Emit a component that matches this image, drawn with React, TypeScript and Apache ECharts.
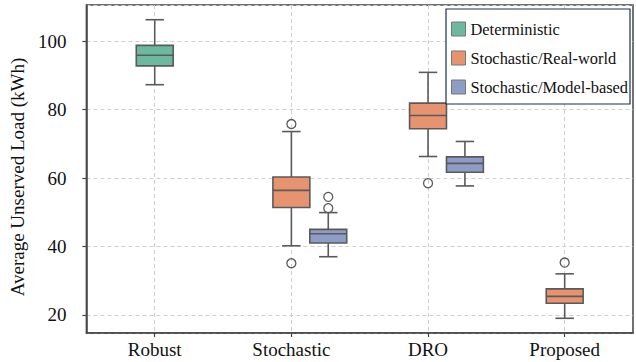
import React, { useEffect, useRef } from "react";
import * as echarts from "echarts";

const categories = ["Robust", "Stochastic", "DRO", "Proposed"];
const seriesNames = ["Deterministic", "Stochastic/Real-world", "Stochastic/Model-based"];
// [categoryIndex, lowerWhisker, q1, median, q3, upperWhisker]
const deterministicStats = [[0, 87.3, 92.8, 95.9, 98.8, 106.3]];
const realWorldStats = [
  [1, 40.2, 51.4, 56.4, 60.3, 73.6],
  [2, 66.3, 74.4, 78.3, 81.9, 90.9],
  [3, 19.0, 23.4, 25.4, 27.6, 32.0],
];
const modelBasedStats = [
  [1, 37.0, 41.0, 43.7, 45.0, 49.9],
  [2, 57.7, 61.7, 64.3, 66.2, 70.7],
];
// [categoryIndex, value]
const deterministicOutliers: number[][] = [];
const realWorldOutliers = [
  [1, 75.8],
  [1, 35.1],
  [2, 58.5],
  [3, 35.3],
];
const modelBasedOutliers = [
  [1, 54.5],
  [1, 51.2],
];
const yTicks = [20, 40, 60, 80, 100];

const FONT = "'Liberation Serif', 'Times New Roman', serif";
const LINE = "#5a5a5a";
const colors = ["#6cb9a0", "#e8936f", "#8e9dc6"];
const BOX_FRAC = 0.27;

function makeRender(offsetFrac: number, color: string, outliers: number[][]) {
  return (params: any, api: any) => {
    const cat = api.value(0);
    const low = api.value(1);
    const q1 = api.value(2);
    const med = api.value(3);
    const q3 = api.value(4);
    const high = api.value(5);
    const band = api.size([1, 0])[0];
    const bw = band * BOX_FRAC;
    const cx = api.coord([cat, 0])[0] + offsetFrac * band;
    const y = (v: number) => api.coord([cat, v])[1];
    const ls = { stroke: LINE, lineWidth: 1.6 };
    const children: any[] = [
      { type: "line", shape: { x1: cx, y1: y(low), x2: cx, y2: y(q1) }, style: ls },
      { type: "line", shape: { x1: cx, y1: y(q3), x2: cx, y2: y(high) }, style: ls },
      { type: "line", shape: { x1: cx - bw / 4, y1: y(low), x2: cx + bw / 4, y2: y(low) }, style: ls },
      { type: "line", shape: { x1: cx - bw / 4, y1: y(high), x2: cx + bw / 4, y2: y(high) }, style: ls },
      {
        type: "rect",
        shape: { x: cx - bw / 2, y: y(q3), width: bw, height: y(q1) - y(q3) },
        style: { fill: color, stroke: LINE, lineWidth: 1.6 },
      },
      { type: "line", shape: { x1: cx - bw / 2, y1: y(med), x2: cx + bw / 2, y2: y(med) }, style: ls },
    ];
    outliers
      .filter((o) => o[0] === cat)
      .forEach((o) => {
        children.push({
          type: "circle",
          shape: { cx, cy: y(o[1]), r: 4.5 },
          style: { fill: "none", stroke: LINE, lineWidth: 1.3 },
        });
      });
    return { type: "group", children };
  };
}

export default function App() {
  const ref = useRef<HTMLDivElement>(null);
  useEffect(() => {
    if (!ref.current) return;
    const chart = echarts.init(ref.current, null, { renderer: "svg" });
    const gridLine = { show: true, lineStyle: { color: "#cfcfcf", type: [4, 3] as any, width: 1 } };
    chart.setOption({
      animation: false,
      backgroundColor: "#ffffff",
      grid: {
        left: 85,
        right: 3,
        top: 5,
        bottom: 29,
        show: true,
        borderColor: "#444",
        borderWidth: 1.5,
        backgroundColor: "transparent",
      },
      legend: {
        data: seriesNames,
        orient: "vertical",
        right: 6,
        top: 9,
        icon: "rect",
        itemWidth: 14,
        itemHeight: 14,
        itemGap: 13,
        itemStyle: { borderColor: "#777", borderWidth: 1 },
        textStyle: { fontFamily: FONT, fontSize: 16.4, color: "#111" },
        backgroundColor: "#ffffff",
        borderColor: "#1f2d55",
        borderWidth: 1.2,
        borderRadius: 0,
        padding: [12, 2, 9, 5],
        selectedMode: false,
      },
      xAxis: {
        type: "category",
        data: categories,
        boundaryGap: true,
        axisLine: { show: true, lineStyle: { color: "#444", width: 1.5 } },
        axisTick: { show: true, alignWithLabel: true, length: 4, lineStyle: { color: "#444", width: 1.2 } },
        axisLabel: { fontFamily: FONT, fontSize: 19, color: "#111", margin: 7 },
        splitLine: { ...gridLine, alignWithLabel: true } as any,
      },
      yAxis: {
        type: "value",
        min: 14.7,
        max: 110.6,
        splitNumber: 5,
        name: "Average Unserved Load (kWh)",
        nameLocation: "middle",
        nameGap: 52,
        nameTextStyle: { fontFamily: FONT, fontSize: 19, color: "#111", padding: [0, 16, 0, 0] },
        axisLine: { show: true, lineStyle: { color: "#444", width: 1.5 } },
        axisTick: { show: true, length: 4, lineStyle: { color: "#444", width: 1.2 } },
        axisLabel: {
          fontFamily: FONT,
          fontSize: 19,
          color: "#111",
          margin: 20,
          showMinLabel: false,
          showMaxLabel: false,
          formatter: (v: number) => (yTicks.indexOf(v) >= 0 ? String(v) : ""),
        },
        splitLine: gridLine,
      },
      series: [
        {
          name: seriesNames[0],
          type: "custom",
          itemStyle: { color: colors[0] },
          renderItem: makeRender(0, colors[0], deterministicOutliers),
          encode: { x: 0, y: [1, 2, 3, 4, 5] },
          data: deterministicStats,
          z: 3,
        },
        {
          name: seriesNames[1],
          type: "custom",
          itemStyle: { color: colors[1] },
          renderItem: makeRender(0, colors[1], realWorldOutliers),
          encode: { x: 0, y: [1, 2, 3, 4, 5] },
          data: realWorldStats,
          z: 3,
        },
        {
          name: seriesNames[2],
          type: "custom",
          itemStyle: { color: colors[2] },
          renderItem: makeRender(BOX_FRAC, colors[2], modelBasedOutliers),
          encode: { x: 0, y: [1, 2, 3, 4, 5] },
          data: modelBasedStats,
          z: 3,
        },
      ],
    });
    return () => chart.dispose();
  }, []);
  return <div ref={ref} style={{ width: 636, height: 362, position: "absolute", left: 0, top: 0 }} />;
}
